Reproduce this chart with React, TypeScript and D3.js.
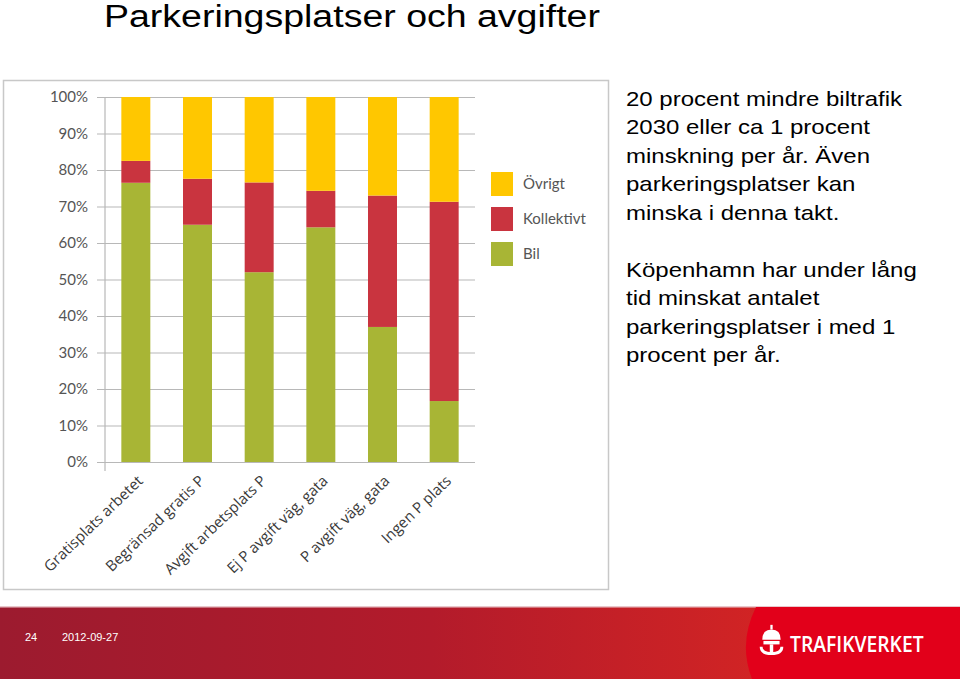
import React, { useEffect, useRef } from "react";
import * as d3 from "d3";

const categories = [
  "Gratisplats arbetet",
  "Begränsad gratis P",
  "Avgift arbetsplats P",
  "Ej P avgift väg, gata",
  "P avgift väg, gata",
  "Ingen P plats",
];
const bil = [76.5, 65, 52, 64.3, 37, 16.7];
const kollektivt = [6, 12.6, 24.6, 10, 36, 54.6];
const ovrigt = [17.5, 22.4, 23.4, 25.7, 27, 28.7];
const seriesNames = ["Bil", "Kollektivt", "Övrigt"];
const legendOrder = ["Övrigt", "Kollektivt", "Bil"];
const yTicks = [0, 10, 20, 30, 40, 50, 60, 70, 80, 90, 100];

const paragraph1 = [
  "20 procent mindre biltrafik",
  "2030 eller ca 1 procent",
  "minskning per år. Även",
  "parkeringsplatser kan",
  "minska i denna takt.",
];
const paragraph2 = [
  "Köpenhamn har under lång",
  "tid minskat antalet",
  "parkeringsplatser i med 1",
  "procent per år.",
];

function App() {
  const svgRef = useRef<SVGSVGElement>(null);
  const width = 960;
  const height = 679;

  useEffect(() => {
    const svg = d3.select(svgRef.current);
    svg.selectAll("*").remove();

    svg.append("rect").attr("width", width).attr("height", height).attr("fill", "#fff");

    const sideFont = "'Liberation Sans', Arial, sans-serif";

    // Slide title (slide is stretched horizontally)
    svg
      .append("text")
      .attr("transform", "translate(104,27) scale(1.21,1)")
      .style("font-family", sideFont)
      .style("font-size", "31px")
      .attr("fill", "#000")
      .text("Parkeringsplatser och avgifter");

    // chart panel
    svg
      .append("rect")
      .attr("x", 3.5)
      .attr("y", 80.5)
      .attr("width", 605)
      .attr("height", 509)
      .attr("fill", "#fff")
      .attr("stroke", "#c8c8c8")
      .attr("stroke-width", 1.5);

    const table = categories.map((c, i) => ({
      cat: c,
      Bil: bil[i],
      Kollektivt: kollektivt[i],
      Övrigt: ovrigt[i],
    }));
    const stacked = d3.stack<any>().keys(seriesNames)(table);

    const x = d3
      .scaleBand()
      .domain(categories)
      .range([105, 475])
      .paddingInner(0.53)
      .paddingOuter(0.265);

    const y = d3.scaleLinear().domain([0, 100]).range([462, 97]);

    const color = d3
      .scaleOrdinal<string>()
      .domain(seriesNames)
      .range(["#a8b535", "#c9343f", "#ffc700"]);

    // grid lines
    svg
      .append("g")
      .attr("transform", "translate(475,0)")
      .call(
        d3
          .axisLeft(y)
          .tickValues(yTicks)
          .tickSize(378)
          .tickFormat(() => "")
      )
      .call((g) => g.select(".domain").remove())
      .selectAll("line")
      .attr("stroke", "#b8b8b8")
      .attr("stroke-width", 1.2);

    // bars
    svg
      .append("g")
      .selectAll("g")
      .data(stacked)
      .join("g")
      .attr("fill", (d) => color(d.key))
      .selectAll("rect")
      .data((d) => d)
      .join("rect")
      .attr("x", (d: any) => x(d.data.cat)!)
      .attr("width", x.bandwidth())
      .attr("y", (d) => y(d[1]))
      .attr("height", (d) => y(d[0]) - y(d[1]));

    // y axis line
    svg
      .append("line")
      .attr("x1", 105)
      .attr("x2", 105)
      .attr("y1", 97)
      .attr("y2", 471)
      .attr("stroke", "#b8b8b8")
      .attr("stroke-width", 1.2);

    // y tick labels
    svg
      .append("g")
      .selectAll("text")
      .data(yTicks)
      .join("text")
      .attr("x", 88)
      .attr("y", (d) => y(d))
      .attr("dy", "0.36em")
      .attr("text-anchor", "end")
      .style("font-family", "Lato, sans-serif")
      .style("font-size", "15px")
      .attr("fill", "#555")
      .text((d) => `${d}%`);

    // x labels
    svg
      .append("g")
      .selectAll("text")
      .data(categories)
      .join("text")
      .attr(
        "transform",
        (d) => `translate(${x(d)! + x.bandwidth() / 2 + 8},${482}) rotate(-44)`
      )
      .attr("text-anchor", "end")
      .style("font-family", "'Open Sans', sans-serif")
      .style("font-size", "15px")
      .attr("fill", "#3a3a3a")
      .text((d) => d);

    // legend
    const legend = svg
      .append("g")
      .selectAll("g")
      .data(legendOrder)
      .join("g")
      .attr("transform", (d, i) => `translate(491,${172 + i * 35})`);
    legend
      .append("rect")
      .attr("width", 22)
      .attr("height", 24)
      .attr("fill", (d) => color(d));
    legend
      .append("text")
      .attr("x", 32)
      .attr("y", 12)
      .attr("dy", "0.36em")
      .style("font-family", "Lato, sans-serif")
      .style("font-size", "15px")
      .attr("fill", "#555")
      .text((d) => d);

    // side text
    svg
      .append("g")
      .selectAll("text")
      .data(paragraph1)
      .join("text")
      .attr("transform", (d, i) => `translate(626,${105.5 + i * 28.6}) scale(1.2,1)`)
      .style("font-family", sideFont)
      .style("font-size", "20px")
      .attr("fill", "#000")
      .text((d) => d);
    svg
      .append("g")
      .selectAll("text")
      .data(paragraph2)
      .join("text")
      .attr("transform", (d, i) => `translate(626,${277 + i * 28.4}) scale(1.2,1)`)
      .style("font-family", sideFont)
      .style("font-size", "20px")
      .attr("fill", "#000")
      .text((d) => d);

    // footer band
    const defs = svg.append("defs");
    const grad = defs
      .append("linearGradient")
      .attr("id", "footerGrad")
      .attr("x1", "0")
      .attr("x2", "1");
    grad.append("stop").attr("offset", "0").attr("stop-color", "#9c1b2f");
    grad.append("stop").attr("offset", "0.45").attr("stop-color", "#b31b2b");
    grad.append("stop").attr("offset", "0.8").attr("stop-color", "#d22424");
    grad.append("stop").attr("offset", "1").attr("stop-color", "#d42a1e");

    svg
      .append("rect")
      .attr("x", 0)
      .attr("y", 607)
      .attr("width", width)
      .attr("height", height - 607)
      .attr("fill", "url(#footerGrad)");
    svg
      .append("rect")
      .attr("x", 0)
      .attr("y", 606)
      .attr("width", width)
      .attr("height", 1.5)
      .attr("fill", "#e9c7cb");
    svg
      .append("path")
      .attr("d", "M756,607 L960,607 L960,679 L752,679 Q738,643 756,607 Z")
      .attr("fill", "#e2001a");

    svg
      .append("text")
      .attr("x", 25)
      .attr("y", 641)
      .style("font-family", sideFont)
      .style("font-size", "11px")
      .attr("fill", "#fff")
      .text("24");
    svg
      .append("text")
      .attr("x", 62)
      .attr("y", 641)
      .style("font-family", sideFont)
      .style("font-size", "11px")
      .attr("fill", "#fff")
      .text("2012-09-27");

    // logo
    const logo = svg.append("g").attr("transform", "translate(760,626) scale(1.15)");
    logo
      .append("path")
      .attr("d", "M2,12 Q2,3 10,3 Q18,3 18,12 Z")
      .attr("fill", "#fff");
    logo.append("rect").attr("x", 9).attr("y", -1).attr("width", 2).attr("height", 4).attr("fill", "#fff");
    logo.append("rect").attr("x", 3).attr("y", 13).attr("width", 14).attr("height", 3).attr("fill", "#fff");
    logo.append("rect").attr("x", 8.5).attr("y", 16).attr("width", 3).attr("height", 9).attr("fill", "#fff");
    logo
      .append("path")
      .attr("d", "M1,18 Q1,24 10,24 Q19,24 19,18")
      .attr("fill", "none")
      .attr("stroke", "#fff")
      .attr("stroke-width", 2.5);
    svg
      .append("text")
      .attr("transform", "translate(790,652) scale(0.92,1)")
      .style("font-family", "'Open Sans', sans-serif")
      .style("font-size", "21px")
      .style("font-weight", "600")
      .attr("fill", "#fff")
      .text("TRAFIKVERKET");
  }, []);

  return (
    <svg
      ref={svgRef}
      width={width}
      height={height}
      style={{ position: "absolute", left: 0, top: 0, display: "block" }}
    ></svg>
  );
}

export default App;
